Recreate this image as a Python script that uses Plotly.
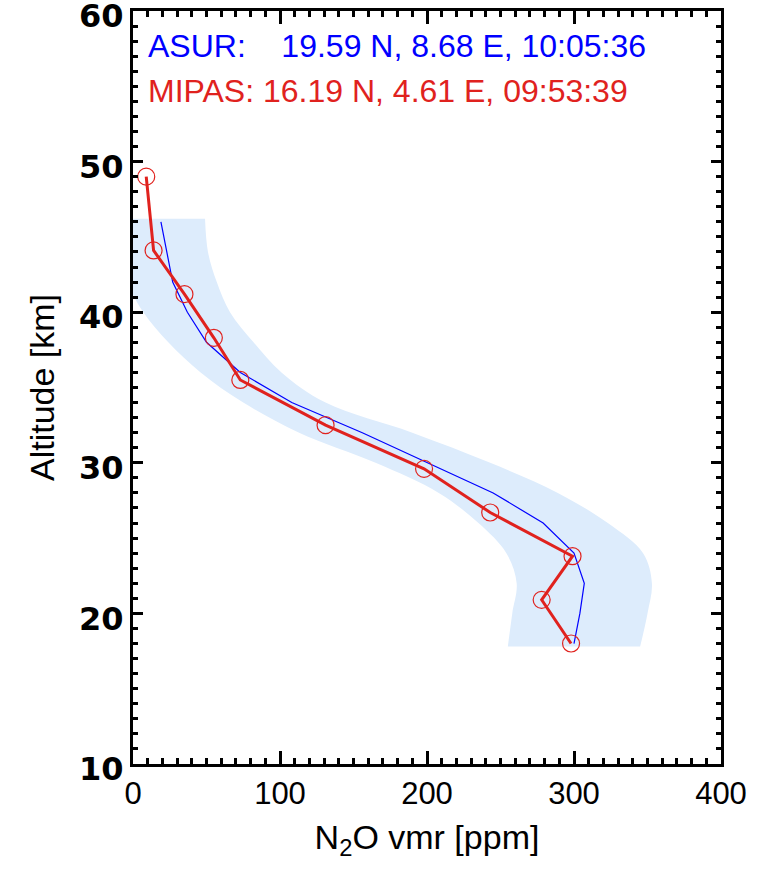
import plotly.graph_objects as go

# ASUR profile (blue line)
asur_alt = [46, 44, 42, 40, 38, 36, 34, 32, 30, 28, 26, 24, 22, 20, 18]
asur_vmr = [19, 23, 27, 37, 50, 73, 108, 156, 200, 245, 279, 300, 307, 304, 300]

# ASUR uncertainty band (light blue)
band_alt = [46.2, 44, 42, 40, 38, 36, 34, 32, 30, 28, 26, 24, 22, 20, 17.8]
band_low = [-32, -18, -5, 7, 24, 46, 75, 113, 165, 208, 235, 254, 261, 258, 255]
band_high = [49, 51, 57, 66, 82, 101, 131, 190, 243, 289, 323, 347, 353, 350, 345]

# MIPAS profile (red line with circles)
mipas_alt = [49.0, 44.1, 41.2, 38.3, 35.5, 32.5, 29.6, 26.7, 23.8, 20.9, 18.0]
mipas_vmr = [9, 14, 35, 55, 73, 131, 198, 243, 299, 278, 298]

# axis ticks
x_ticks = [0, 100, 200, 300, 400]
y_ticks = [10, 20, 30, 40, 50, 60]

asur_label = "ASUR:\u00a0\u00a0\u00a0 19.59 N, 8.68 E, 10:05:36"
mipas_label = "MIPAS: 16.19 N, 4.61 E, 09:53:39"

RED = "#E0221E"
BLUE = "#0000FF"
BAND = "#DDECFC"

fig = go.Figure()
fig.add_trace(go.Scatter(x=band_low, y=band_alt, mode="lines",
                         line=dict(width=0, shape="spline", color=BAND),
                         hoverinfo="skip", showlegend=False))
fig.add_trace(go.Scatter(x=band_high, y=band_alt, mode="lines", fill="tonextx",
                         fillcolor=BAND,
                         line=dict(width=0, shape="spline", color=BAND),
                         hoverinfo="skip", showlegend=False))
fig.add_trace(go.Scatter(x=asur_vmr, y=asur_alt, mode="lines",
                         line=dict(color=BLUE, width=1.2), showlegend=False))
fig.add_trace(go.Scatter(x=mipas_vmr, y=mipas_alt, mode="lines+markers",
                         line=dict(color=RED, width=3),
                         marker=dict(symbol="circle-open", size=17,
                                     line=dict(color=RED, width=1.2)),
                         showlegend=False))

fig.add_annotation(x=8.5, y=57.7, xref="x", yref="y", text=asur_label,
                   showarrow=False, xanchor="left", yanchor="middle",
                   font=dict(family="Liberation Sans", size=32, color=BLUE))
fig.add_annotation(x=8.5, y=54.7, xref="x", yref="y", text=mipas_label,
                   showarrow=False, xanchor="left", yanchor="middle",
                   font=dict(family="Liberation Sans", size=32, color=RED))

fig.update_layout(
    width=757, height=874,
    margin=dict(l=133, r=36, t=11, b=110),
    plot_bgcolor="white", paper_bgcolor="white",
    xaxis=dict(range=[0, 400], tickmode="array", tickvals=x_ticks,
               ticktext=[str(v) for v in x_ticks], automargin=False,
               showgrid=False, zeroline=False,
               showline=True, linecolor="black", linewidth=3, mirror="allticks",
               ticks="inside", ticklen=13, tickwidth=3, tickcolor="black",
               minor=dict(dtick=10, tick0=0, ticks="inside", ticklen=6, tickwidth=3,
                          tickcolor="black", showgrid=False),
               tickfont=dict(family="Liberation Sans", size=31, color="black"),
               ticklabeloverflow="allow",
               title=dict(text="N<sub>2</sub>O vmr [ppm]",
                          font=dict(family="Liberation Sans", size=34, color="black"))),
    yaxis=dict(range=[10, 60], tickmode="array", tickvals=y_ticks,
               ticktext=[str(v) for v in y_ticks], automargin=False,
               showgrid=False, zeroline=False,
               showline=True, linecolor="black", linewidth=3, mirror="allticks",
               ticks="inside", ticklen=10, tickwidth=3, tickcolor="black",
               minor=dict(dtick=1, tick0=0, ticks="inside", ticklen=5, tickwidth=3,
                          tickcolor="black", showgrid=False),
               tickfont=dict(family="DejaVu Sans", size=32, color="black", weight="bold"),
               ticklabeloverflow="allow", ticklabelshift=5,
               title=dict(text="Altitude [km]",
                          font=dict(family="Liberation Sans", size=34, color="black"))),
)

fig.write_html("out.html", config={"displayModeBar": False},
               post_script="document.body.style.margin='0px';")
